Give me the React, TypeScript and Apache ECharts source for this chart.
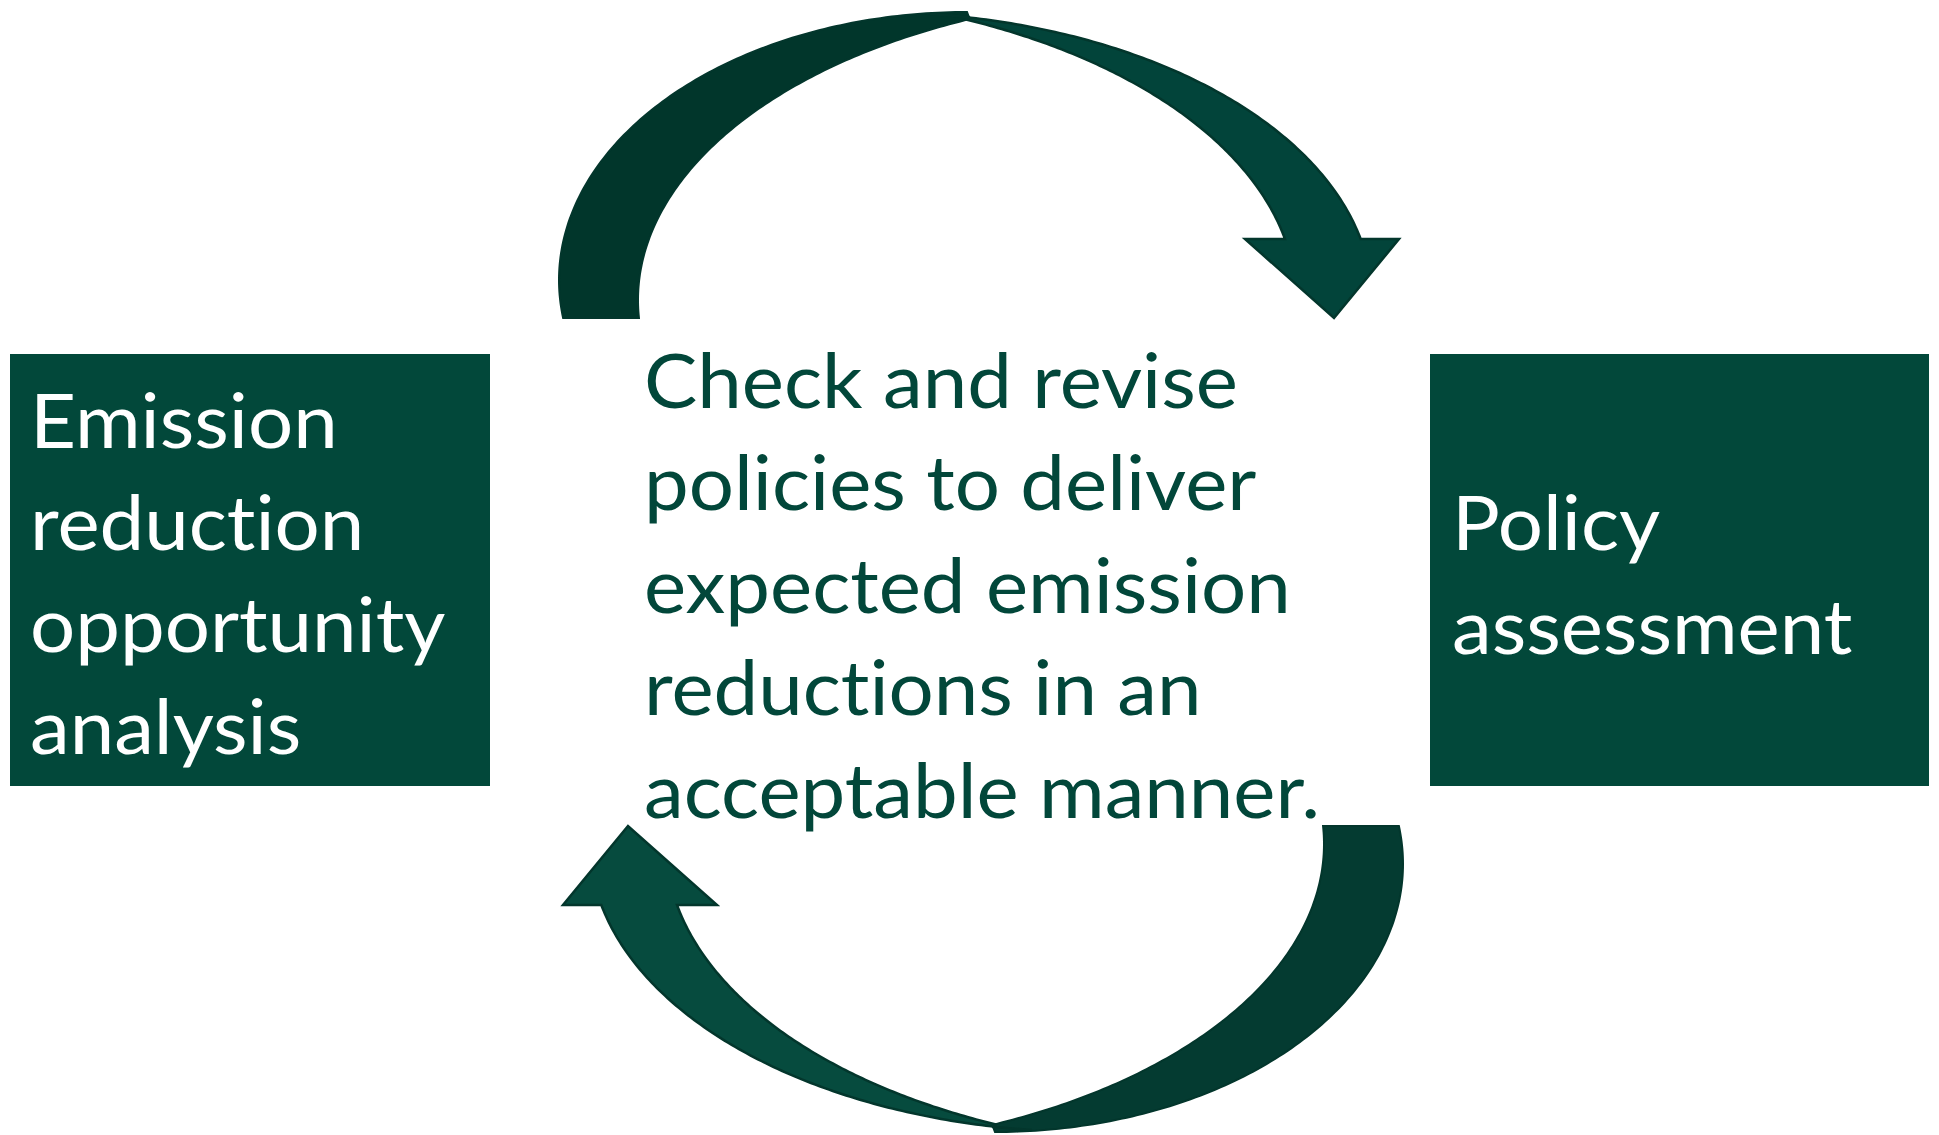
import React, { useEffect, useRef } from "react";
import * as echarts from "echarts";

const leftBoxLines: string[] = ["Emission", "reduction", "opportunity", "analysis"];
const rightBoxLines: string[] = ["Policy", "assessment"];
const centerLines: string[] = [
  "Check and revise",
  "policies to deliver",
  "expected emission",
  "reductions in an",
  "acceptable manner.",
];

const W = 1939;
const H = 1135;
const FONT = "Lato";
const FS = 76;
const SX = 1.05;
const CENTRAL = 0.36;

type Pt = [number, number];
type Ell = { cx: number; cy: number; rx: number; ry: number };

function ellipseArc(e: Ell, t0: number, t1: number, n = 120): Pt[] {
  const pts: Pt[] = [];
  for (let i = 0; i <= n; i++) {
    const t = t0 + ((t1 - t0) * i) / n;
    pts.push([e.cx + e.rx * Math.cos(t), e.cy + e.ry * Math.sin(t)]);
  }
  return pts;
}
function angleOn(e: Ell, x: number, y: number): number {
  return Math.atan2((y - e.cy) / e.ry, (x - e.cx) / e.rx);
}

function buildTopArrow() {
  const LO: Ell = { cx: 967, cy: 280, rx: 408, ry: 268 };
  const LI: Ell = { cx: 1188, cy: 300, rx: 550, ry: 306 };
  const loStart = Math.PI - Math.asin((318 - 280) / 268);
  const back: Pt[] = ellipseArc(LO, loStart, 1.5 * Math.PI);
  const liTop = angleOn(LI, 968, 17) + 2 * Math.PI;
  const liBot = angleOn(LI, 640, 318);
  back.push(...ellipseArc(LI, liTop, liBot));

  const RO: Ell = { cx: 872, cy: 300, rx: 500, ry: 288 };
  const RI: Ell = { cx: 746, cy: 300, rx: 550, ry: 306 };
  const roStart = -Math.acos((930 - 872) / 500);
  const roEnd = -Math.asin((300 - 239) / 288);
  const front: Pt[] = [[968, 17], ...ellipseArc(RO, roStart, roEnd)];
  front.push([1399, 239], [1334, 318], [1245, 239]);
  const riBot = angleOn(RI, 1285, 239);
  const riTop = angleOn(RI, 968, 17);
  front.push(...ellipseArc(RI, riBot, riTop));
  return { back, front };
}

const rot = (p: Pt): Pt => [1962 - p[0], 1144 - p[1]];

function textLines(lines: string[], x: number, firstBaseline: number, lh: number, color: string) {
  return lines.map((t, i) => ({
    type: "text",
    x,
    y: firstBaseline + i * lh - CENTRAL * FS,
    scaleX: SX,
    style: {
      text: t,
      fill: color,
      fontSize: FS,
      fontFamily: FONT,
      fontWeight: 400,
      align: "left",
      verticalAlign: "middle",
      textAlign: "left",
      textVerticalAlign: "middle",
    },
  }));
}

export default function App() {
  const ref = useRef<HTMLDivElement>(null);
  useEffect(() => {
    if (!ref.current) return;
    const chart = echarts.init(ref.current, undefined, { renderer: "svg" });
    const { back, front } = buildTopArrow();
    const strokeCol = "#03362c";
    const elements: any[] = [
      { type: "polygon", shape: { points: back }, style: { fill: "#01362b", stroke: strokeCol, lineWidth: 2 } },
      { type: "polygon", shape: { points: front }, style: { fill: "#02443a", stroke: strokeCol, lineWidth: 2.5 } },
      { type: "polygon", shape: { points: back.map(rot) }, style: { fill: "#043b31", stroke: strokeCol, lineWidth: 2 } },
      { type: "polygon", shape: { points: front.map(rot) }, style: { fill: "#064b3e", stroke: strokeCol, lineWidth: 2.5 } },
      { type: "rect", shape: { x: 10, y: 354, width: 480, height: 432 }, style: { fill: "#02483a" } },
      { type: "rect", shape: { x: 1430, y: 354, width: 499, height: 432 }, style: { fill: "#02483a" } },
      ...textLines(leftBoxLines, 30, 446, 102, "#ffffff"),
      ...textLines(rightBoxLines, 1452, 548, 104, "#ffffff"),
      ...textLines(centerLines, 644, 406, 102.5, "#02473a"),
    ];
    chart.setOption({
      animation: false,
      backgroundColor: "#ffffff",
      graphic: { elements },
    });
    return () => chart.dispose();
  }, []);
  return (
    <div
      ref={ref}
      style={{
        position: "fixed",
        left: 0,
        top: 0,
        width: W,
        height: H,
        fontVariantLigatures: "none",
        fontFeatureSettings: '"liga" 0, "clig" 0',
      }}
    />
  );
}
